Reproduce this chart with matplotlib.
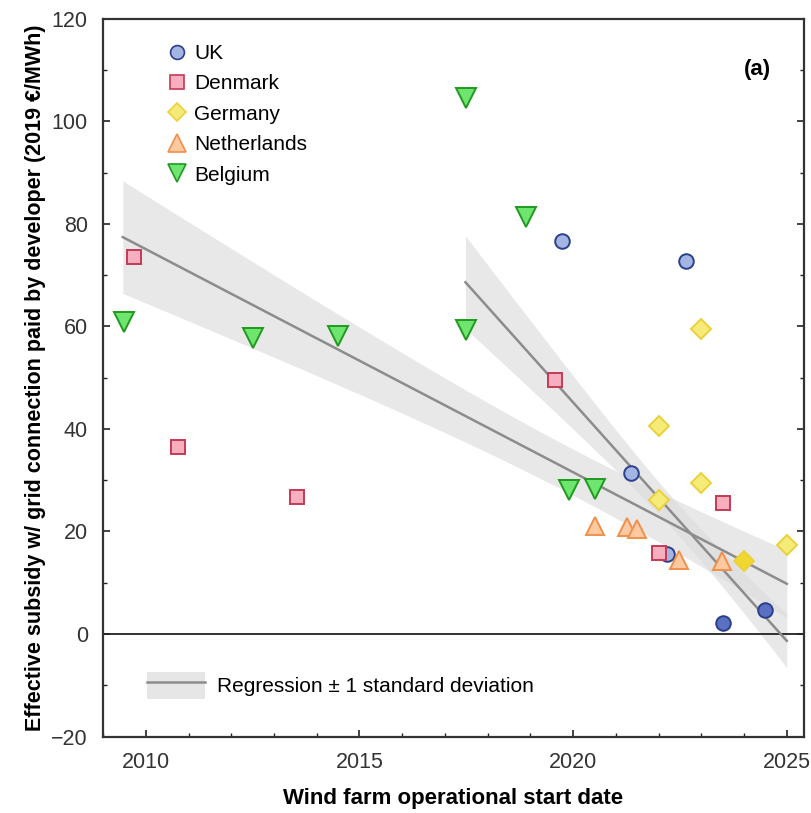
import matplotlib
matplotlib.use("Agg")
import matplotlib.pyplot as plt
from matplotlib.patches import Patch
from matplotlib.lines import Line2D
from matplotlib.legend_handler import HandlerTuple
from matplotlib.ticker import MultipleLocator
import numpy as np

plt.rcParams['font.family'] = ['Liberation Sans', 'DejaVu Sans']

# data (year, subsidy in 2019 EUR/MWh)
uk_year = [2019.75, 2022.65, 2021.35, 2022.2, 2024.5, 2023.5]
uk_val = [76.6, 72.7, 31.4, 15.6, 4.6, 2.2]
dk_year = [2009.72, 2010.75, 2013.53, 2019.58, 2022.0, 2023.5]
dk_val = [73.5, 36.5, 26.7, 49.5, 15.8, 25.5]
de_year = [2022.0, 2023.0, 2023.0, 2022.0, 2024.0, 2025.0]
de_val = [40.6, 59.4, 29.4, 26.1, 14.2, 17.3]
nl_year = [2020.5, 2021.27, 2021.5, 2022.48, 2023.48]
nl_val = [21.0, 20.9, 20.5, 14.4, 14.2]
be_year = [2009.5, 2012.5, 2014.5, 2017.5, 2017.5, 2018.9, 2019.9, 2020.5]
be_val = [60.8, 57.7, 58.1, 59.2, 104.5, 81.3, 28.1, 28.3]

# regressions as published (all projects / projects from 2017.5 on)
# start year, end year, value at start, slope per year
reg_start = [2009.46, 2017.48]
reg_end = [2025.0, 2025.0]
reg_v0 = [77.4, 68.6]
reg_slope = [-4.35, -9.3]
# +-1 sd band: minimum width, year of minimum, growth per year
sd_min = [4.5, 3.0]
sd_year = [2020.0, 2022.5]
sd_growth = [0.95, 1.7]

# some markers in the figure are drawn with a stronger fill
uk_fill = ["#a3b6e3"] * 4 + ["#5a70c0"] * 2
de_fill = ["#f6ea78"] * 4 + ["#f0d830", "#f6ea78"]

series = [
    ("UK", uk_year, uk_val, "o", 10.5, uk_fill, "#2b3f8c"),
    ("Denmark", dk_year, dk_val, "s", 10.5, ["#f7aebf"] * 6, "#c43a55"),
    ("Germany", de_year, de_val, "D", 10.0, de_fill, "#ead13c"),
    ("Netherlands", nl_year, nl_val, "^", 13.0, ["#fcc9a0"] * 5, "#f0904a"),
    ("Belgium", be_year, be_val, "v", 14.0, ["#6ee56e"] * 8, "#1f9a1f"),
]

fig = plt.figure(figsize=(8.12, 8.13), dpi=100)
ax = fig.add_axes([0.127, 0.094, 0.863, 0.883])

for i in range(len(reg_start)):
    xs = np.linspace(reg_start[i], reg_end[i], 200)
    ys = reg_v0[i] + reg_slope[i] * (xs - reg_start[i])
    sd = np.sqrt(sd_min[i] ** 2 + (sd_growth[i] * (xs - sd_year[i])) ** 2)
    ax.fill_between(xs, ys - sd, ys + sd, color="#dcdcdc", alpha=0.65, lw=0,
                    zorder=1)
    ax.plot(xs, ys, color="#8c8c8c", lw=1.8, zorder=2)

ax.axhline(0, color="#222222", lw=1.3, zorder=1.5)

handles = []
for name, xx, yy, m, ms, fills, ec in series:
    for x, y, fc in zip(xx, yy, fills):
        ax.plot(x, y, ls="none", marker=m, ms=ms, mfc=fc, mec=ec, mew=1.4,
                zorder=3)
    handles.append(Line2D([], [], ls="none", marker=m, ms=ms * 0.95,
                          mfc=fills[0], mec=ec, mew=1.2, label=name))

leg1 = ax.legend(handles=handles, loc="upper left", bbox_to_anchor=(0.09, 0.965),
                 frameon=False, fontsize=15, handletextpad=0.35, labelspacing=0.55,
                 handlelength=1.0, borderpad=0, borderaxespad=0)
ax.add_artist(leg1)

band = Patch(facecolor="#e6e6e6", edgecolor="none")
reg_line = Line2D([], [], color="#8c8c8c", lw=1.8)
ax.legend(handles=[(band, reg_line)], labels=["Regression \u00b1 1 standard deviation"],
          handler_map={tuple: HandlerTuple(ndivide=1)},
          loc="center left", bbox_to_anchor=(0.062, 0.071), frameon=False,
          fontsize=15, handlelength=2.8, handleheight=1.6, handletextpad=0.6,
          borderpad=0, borderaxespad=0)

ax.text(0.953, 0.929, "(a)", transform=ax.transAxes, ha="right", va="center",
        fontsize=16, fontweight="bold")

ax.set_xlim(2009.0, 2025.4)
ax.set_ylim(-20, 120)
ax.xaxis.set_major_locator(MultipleLocator(5))
ax.xaxis.set_minor_locator(MultipleLocator(1))
ax.yaxis.set_major_locator(MultipleLocator(20))
ax.yaxis.set_minor_locator(MultipleLocator(10))
ax.tick_params(which="both", direction="in", right=True, top=False,
               labelsize=15.5, colors="#222222", labelcolor="#333333")
ax.tick_params(axis="x", which="both", pad=11)
ax.tick_params(axis="y", which="both", pad=11)
ax.tick_params(which="major", length=5, width=1.2)
ax.tick_params(which="minor", length=3, width=1)
for sp in ax.spines.values():
    sp.set_linewidth(1.6)
    sp.set_color("#333333")

ax.set_xlabel("Wind farm operational start date", fontsize=16,
              fontweight="bold", labelpad=11)
ax.set_ylabel("Effective subsidy w/ grid connection paid by developer (2019 \u20ac/MWh)",
              fontsize=15.5, fontweight="bold", labelpad=4)

fig.savefig("out.png", dpi=100)
